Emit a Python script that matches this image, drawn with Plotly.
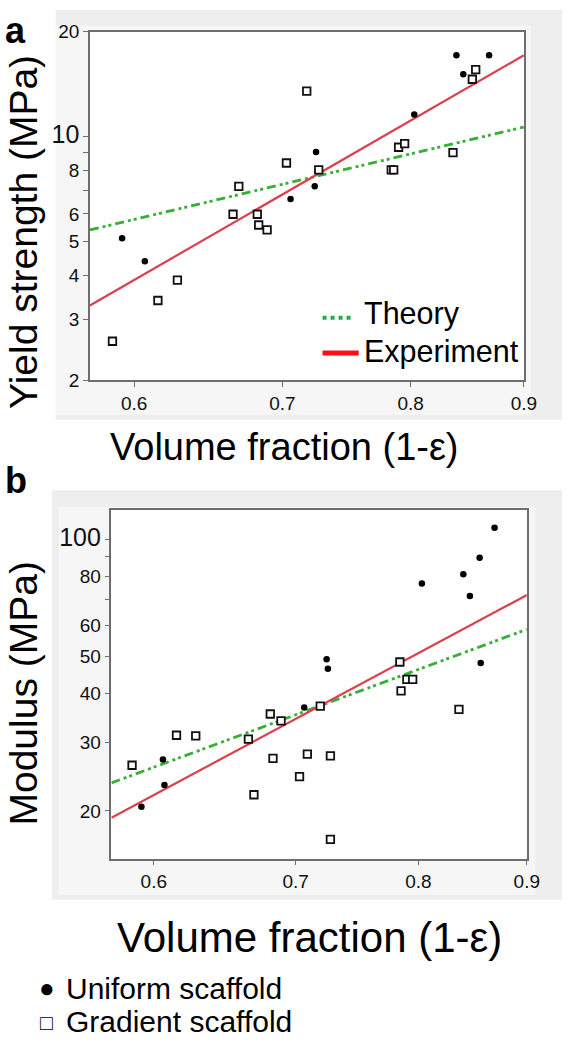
import plotly.graph_objects as go
import math

# ---------------- data ----------------
# Panel a: yield strength (MPa) vs volume fraction
a_uniform_x = [0.5925, 0.6067, 0.706, 0.724, 0.725, 0.803, 0.839, 0.845, 0.868]
a_uniform_y = [5.11, 4.39, 6.62, 7.20, 9.03, 11.56, 17.1, 15.1, 17.1]
a_gradient_x = [0.5866, 0.615, 0.6276, 0.665, 0.669, 0.682, 0.683, 0.689, 0.703,
                0.718, 0.727, 0.784, 0.786, 0.790, 0.795, 0.836, 0.853, 0.856]
a_gradient_y = [2.59, 3.39, 3.88, 5.99, 7.20, 5.99, 5.58, 5.40, 8.40,
                13.5, 8.03, 8.03, 8.03, 9.32, 9.55, 9.00, 14.6, 15.55]
a_theory_x = [0.573, 0.9]
a_theory_y = [5.40, 10.65]
a_exp_x = [0.573, 0.9]
a_exp_y = [3.28, 17.1]

# Panel b: modulus (MPa) vs volume fraction
b_uniform_x = [0.592, 0.606, 0.607, 0.7066, 0.724, 0.725, 0.803, 0.840, 0.846, 0.855, 0.856, 0.869]
b_uniform_y = [20.5, 27.1, 23.3, 36.9, 49.1, 46.4, 76.9, 81.2, 71.4, 89.6, 48.0, 107.0]
b_gradient_x = [0.586, 0.615, 0.628, 0.665, 0.669, 0.681, 0.683, 0.689, 0.703,
                0.709, 0.719, 0.727, 0.727, 0.784, 0.785, 0.790, 0.795, 0.836]
b_gradient_y = [26.2, 31.3, 31.2, 30.6, 22.0, 35.5, 27.3, 34.1, 24.5,
                28.0, 37.2, 27.7, 16.9, 48.3, 40.7, 43.6, 43.6, 36.5]
b_theory_x = [0.573, 0.9]
b_theory_y = [23.6, 58.6]
b_exp_x = [0.573, 0.9]
b_exp_y = [19.2, 71.8]

x_ticks = [0.6, 0.7, 0.8, 0.9]
x_ticktext = ["0.6", "0.7", "0.8", "0.9"]
a_yticks = [2, 3, 4, 5, 6, 7, 8, 9, 10, 20]
a_yticktext = ["2", "3", "4", "5", "6", "", "8", "", "10", "20"]
b_yticks = [20, 30, 40, 50, 60, 70, 80, 90, 100]
b_yticktext = ["20", "30", "40", "50", "60", "", "80", "", "100"]
big_labels = ["10", "100"]

# ---------------- figure ----------------
W, H = 575, 1050
FONT = "Liberation Sans, Arial, sans-serif"
RED = "#d9414e"
GREEN = "#35b035"
DASHDOT = "9px,4px,3px,3px,3px,4px"

def tt(labels):
    out = []
    for t in labels:
        if t in big_labels:
            out.append('<span style="font-size:25px">%s</span>' % t)
        else:
            out.append(t)
    return out

def px_x(p):
    return p / W

def px_y(p):
    return 1 - p / H

fig = go.Figure()

def add_panel(xa, ya, ux, uy, gx, gy, thx, thy, exx, exy):
    fig.add_trace(go.Scatter(x=thx, y=thy, mode="lines", xaxis=xa, yaxis=ya,
                             line=dict(color=GREEN, width=2.8, dash=DASHDOT),
                             showlegend=False, hoverinfo="skip"))
    fig.add_trace(go.Scatter(x=exx, y=exy, mode="lines", xaxis=xa, yaxis=ya,
                             line=dict(color=RED, width=2.2),
                             showlegend=False, hoverinfo="skip"))
    fig.add_trace(go.Scatter(x=gx, y=gy, mode="markers", xaxis=xa, yaxis=ya,
                             marker=dict(symbol="square", size=7.5, color="white",
                                         line=dict(color="#111111", width=1.8)),
                             showlegend=False))
    fig.add_trace(go.Scatter(x=ux, y=uy, mode="markers", xaxis=xa, yaxis=ya,
                             marker=dict(symbol="circle", size=6.5, color="black",
                                         line=dict(width=0)),
                             showlegend=False))

add_panel("x", "y", a_uniform_x, a_uniform_y, a_gradient_x, a_gradient_y,
          a_theory_x, a_theory_y, a_exp_x, a_exp_y)
add_panel("x2", "y2", b_uniform_x, b_uniform_y, b_gradient_x, b_gradient_y,
          b_theory_x, b_theory_y, b_exp_x, b_exp_y)

axis_common = dict(type="log", showgrid=False, zeroline=False, showline=True,
                   linecolor="#6e6e6e", linewidth=1.5, mirror=True,
                   ticks="outside", ticklen=5, tickcolor="#6e6e6e", tickwidth=1,
                   tickfont=dict(family=FONT, size=19, color="#111111"))

xr = [math.log10(0.573), math.log10(0.9)]

fig.update_layout(
    width=W, height=H,
    margin=dict(l=0, r=0, t=0, b=0),
    paper_bgcolor="white", plot_bgcolor="white",
    showlegend=False,
    xaxis=dict(axis_common, domain=[px_x(92), px_x(536)], range=xr, anchor="y",
               tickvals=x_ticks, ticktext=x_ticktext),
    yaxis=dict(axis_common, domain=[px_y(378), px_y(22)],
               range=[math.log10(2), math.log10(20)], anchor="x",
               tickvals=a_yticks, ticktext=tt(a_yticktext)),
    xaxis2=dict(axis_common, domain=[px_x(114), px_x(539)], range=xr, anchor="y2",
                tickvals=x_ticks, ticktext=x_ticktext),
    yaxis2=dict(axis_common, domain=[px_y(866), px_y(510)],
                range=[1.178, 2.0755], anchor="x2",
                tickvals=b_yticks, ticktext=tt(b_yticktext)),
)

# background panels
def rect(x0, y0, x1, y1, color):
    fig.add_shape(type="rect", xref="paper", yref="paper",
                  x0=px_x(x0), x1=px_x(x1), y0=px_y(y1), y1=px_y(y0),
                  fillcolor=color, line=dict(width=0), layer="below")

rect(57, 0, 575, 418, "#eeeeee")
rect(57, 16, 543, 413, "#f6f6f6")
rect(53, 490, 575, 908, "#eeeeee")
rect(60, 507, 548, 903, "#f6f6f6")
for xa, ya in (("x", "y"), ("x2", "y2")):
    fig.add_shape(type="rect", xref=xa + " domain", yref=ya + " domain",
                  x0=0, x1=1, y0=0, y1=1, fillcolor="white",
                  line=dict(width=0), layer="below")

def text(x, y, s, size, angle=0, bold=False, anchor="center"):
    fig.add_annotation(x=px_x(x), y=px_y(y), xref="paper", yref="paper",
                       text=("<b>%s</b>" % s) if bold else s, showarrow=False,
                       textangle=angle, xanchor=anchor, yanchor="middle",
                       font=dict(family=FONT, size=size, color="black"))

text(16, 21, "a", 36, bold=True)
text(16, 480, "b", 36, bold=True)
text(24, 226, "Yield strength (MPa)", 39, angle=-90)
text(24, 697, "Modulus (MPa)", 39, angle=-90)
text(291, 446, "Volume fraction (1-ε)", 38)
text(317, 946, "Volume fraction (1-ε)", 42)

# in-plot legend for panel a
fig.add_shape(type="line", xref="paper", yref="paper",
              x0=px_x(330), x1=px_x(362), y0=px_y(314), y1=px_y(314),
              line=dict(color="#1fae4a", width=4, dash="4px,4px"))
fig.add_shape(type="line", xref="paper", yref="paper",
              x0=px_x(330), x1=px_x(367), y0=px_y(350), y1=px_y(350),
              line=dict(color="#ff1010", width=5))
text(370, 310, "Theory", 30.5, anchor="left")
text(370, 348, "Experiment", 30.5, anchor="left")

# bottom legend
text(38, 998, "●", 26, anchor="left")
text(39, 1033, "□", 21, anchor="left")
text(65, 998, "Uniform scaffold", 30, anchor="left")
text(65, 1032, "Gradient scaffold", 30, anchor="left")

fig.write_html("out.html", post_script="document.body.style.margin='0px';",
               config={"displayModeBar": False})
